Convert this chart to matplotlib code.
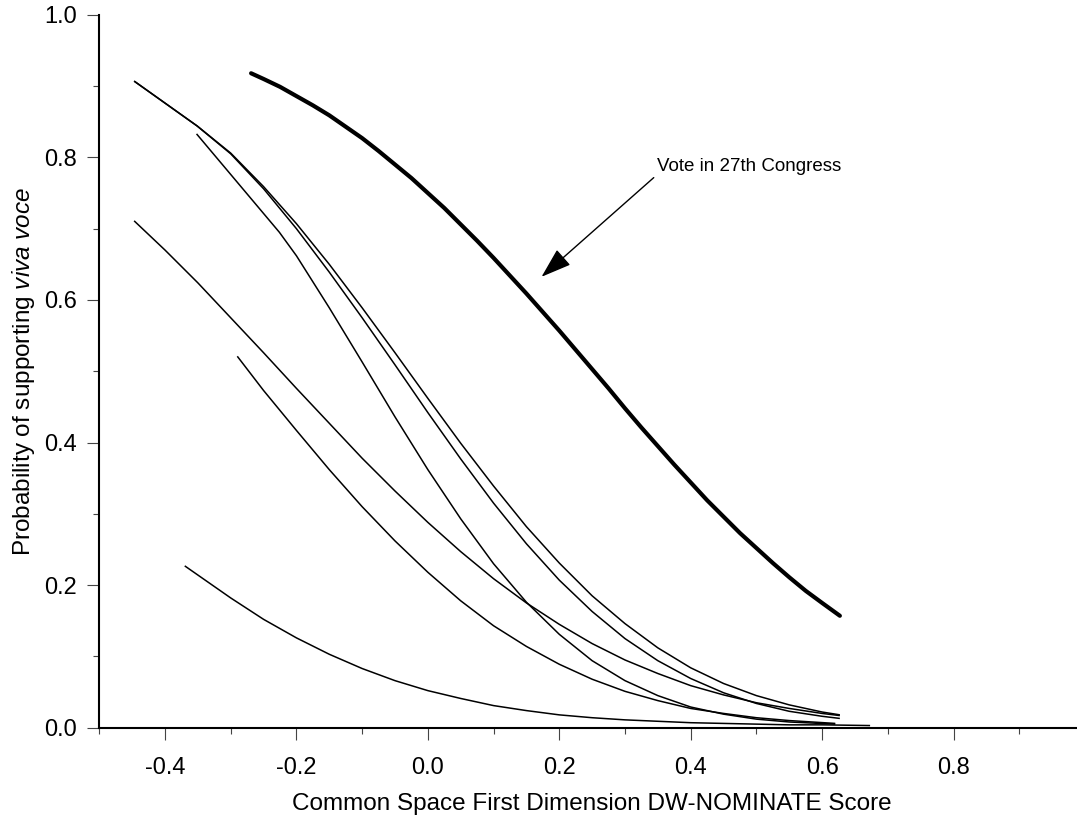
import matplotlib
matplotlib.use("Agg")
import matplotlib.pyplot as plt
from matplotlib.ticker import MultipleLocator, FormatStrFormatter

plt.rcParams['font.family'] = ['Liberation Sans', 'DejaVu Sans']
plt.rcParams['mathtext.fontset'] = 'custom'
plt.rcParams['mathtext.rm'] = 'Liberation Sans'
plt.rcParams['mathtext.it'] = 'Liberation Sans:italic'

# ---- data ----
thick_x = [-0.269, -0.25, -0.225, -0.2, -0.175, -0.15, -0.125, -0.1, -0.075, -0.05, -0.025,
           0.0, 0.025, 0.05, 0.075, 0.1, 0.125, 0.15, 0.175, 0.2, 0.225, 0.25, 0.275,
           0.3, 0.325, 0.35, 0.375, 0.4, 0.425, 0.45, 0.475, 0.5, 0.525, 0.55, 0.575, 0.6, 0.627]
thick_y = [0.918, 0.910, 0.899, 0.886, 0.873, 0.859, 0.843, 0.827, 0.809, 0.790, 0.771,
           0.750, 0.729, 0.706, 0.683, 0.659, 0.634, 0.609, 0.583, 0.557, 0.530, 0.503, 0.476,
           0.448, 0.421, 0.395, 0.369, 0.344, 0.319, 0.296, 0.273, 0.252, 0.231, 0.211, 0.192, 0.175, 0.157]

b1_x = [-0.447, -0.351, -0.3, -0.25, -0.2, -0.15, -0.1, -0.05, 0.0, 0.05, 0.1, 0.15, 0.2, 0.25, 0.3, 0.35, 0.4, 0.45, 0.5, 0.55, 0.6, 0.627]
b1_y = [0.907, 0.844, 0.806, 0.759, 0.707, 0.650, 0.589, 0.526, 0.462, 0.399, 0.339, 0.282, 0.231, 0.185, 0.146, 0.112, 0.084, 0.062, 0.045, 0.032, 0.022, 0.018]

b2_x = [-0.447, -0.351, -0.3, -0.25, -0.2, -0.15, -0.1, -0.05, 0.0, 0.05, 0.1, 0.15, 0.2, 0.25, 0.3, 0.35, 0.4, 0.45, 0.5, 0.55, 0.6, 0.627]
b2_y = [0.907, 0.844, 0.805, 0.756, 0.700, 0.639, 0.575, 0.509, 0.442, 0.377, 0.315, 0.258, 0.207, 0.163, 0.125, 0.094, 0.069, 0.049, 0.034, 0.023, 0.016, 0.013]

c_x = [-0.352, -0.226, -0.2, -0.15, -0.1, -0.05, 0.0, 0.05, 0.1, 0.15, 0.2, 0.25, 0.3, 0.35, 0.4, 0.45, 0.5, 0.55, 0.62]
c_y = [0.833, 0.695, 0.662, 0.589, 0.513, 0.436, 0.362, 0.293, 0.230, 0.176, 0.131, 0.094, 0.066, 0.045, 0.029, 0.019, 0.012, 0.008, 0.005]

d_x = [-0.447, -0.4, -0.35, -0.3, -0.25, -0.2, -0.15, -0.1, -0.05, 0.0, 0.05, 0.1, 0.15, 0.2, 0.25, 0.3, 0.35, 0.4, 0.45, 0.5, 0.55, 0.6, 0.627]
d_y = [0.711, 0.670, 0.624, 0.575, 0.526, 0.476, 0.427, 0.378, 0.332, 0.288, 0.247, 0.209, 0.175, 0.145, 0.118, 0.095, 0.076, 0.059, 0.046, 0.035, 0.027, 0.020, 0.017]

e_x = [-0.29, -0.25, -0.2, -0.15, -0.1, -0.05, 0.0, 0.05, 0.1, 0.15, 0.2, 0.25, 0.3, 0.35, 0.4, 0.45, 0.5, 0.55, 0.62]
e_y = [0.521, 0.473, 0.417, 0.362, 0.310, 0.262, 0.218, 0.178, 0.143, 0.114, 0.089, 0.068, 0.051, 0.038, 0.027, 0.020, 0.014, 0.010, 0.006]

f_x = [-0.37, -0.3, -0.25, -0.2, -0.15, -0.1, -0.05, 0.0, 0.05, 0.1, 0.15, 0.2, 0.25, 0.3, 0.35, 0.4, 0.45, 0.5, 0.55, 0.6, 0.673]
f_y = [0.227, 0.182, 0.152, 0.126, 0.103, 0.083, 0.066, 0.052, 0.041, 0.031, 0.024, 0.018, 0.014, 0.011, 0.009, 0.007, 0.006, 0.005, 0.004, 0.004, 0.003]

x_ticks = [-0.4, -0.2, 0.0, 0.2, 0.4, 0.6, 0.8]
y_ticks = [0.0, 0.2, 0.4, 0.6, 0.8, 1.0]

annotation_text = "Vote in 27th Congress"
x_label = "Common Space First Dimension DW-NOMINATE Score"
y_label = r"Probability of supporting $\it{viva\ voce}$"

# ---- figure ----
fig = plt.figure(figsize=(10.77, 8.23), dpi=100)
ax = fig.add_axes([0.0922, 0.1158, 0.9152, 0.8662])

thin = dict(color='black', lw=1.1, solid_capstyle='butt', solid_joinstyle='round')
for xs, ys in [(b1_x, b1_y), (b2_x, b2_y), (c_x, c_y), (d_x, d_y), (e_x, e_y), (f_x, f_y)]:
    ax.plot(xs, ys, **thin)
ax.plot(thick_x, thick_y, color='black', lw=3.0, solid_capstyle='round', solid_joinstyle='round')

ax.set_xlim(-0.5, 1.0)
ax.set_ylim(0.0, 1.0)

ax.spines['top'].set_visible(False)
ax.spines['right'].set_visible(False)
ax.spines['left'].set_linewidth(1.5)
ax.spines['bottom'].set_linewidth(1.5)

ax.set_xticks(x_ticks)
ax.set_yticks(y_ticks)
ax.xaxis.set_major_formatter(FormatStrFormatter('%.1f'))
ax.yaxis.set_major_formatter(FormatStrFormatter('%.1f'))
ax.xaxis.set_minor_locator(MultipleLocator(0.1))
ax.yaxis.set_minor_locator(MultipleLocator(0.1))
ax.tick_params(which='major', direction='out', length=8.4, width=0.8, color='#444444',
               labelsize=17, pad=8)
ax.tick_params(axis='x', which='major', pad=13)
ax.tick_params(which='minor', direction='out', length=4.2, width=0.8, color='#444444')

ax.set_xlabel(x_label, fontsize=17.5, labelpad=10)
ax.set_ylabel(y_label, fontsize=17.5, labelpad=5)

ax.annotate(annotation_text, xy=(0.173, 0.6325), xytext=(0.348, 0.787),
            fontsize=13.5, ha='left', va='center',
            arrowprops=dict(arrowstyle='-|>,head_length=0.95,head_width=0.32',
                            mutation_scale=20, color='black', lw=1.0,
                            shrinkA=0, shrinkB=0,
                            relpos=(0.0, 0.0)))

fig.savefig('out.png', dpi=100)
